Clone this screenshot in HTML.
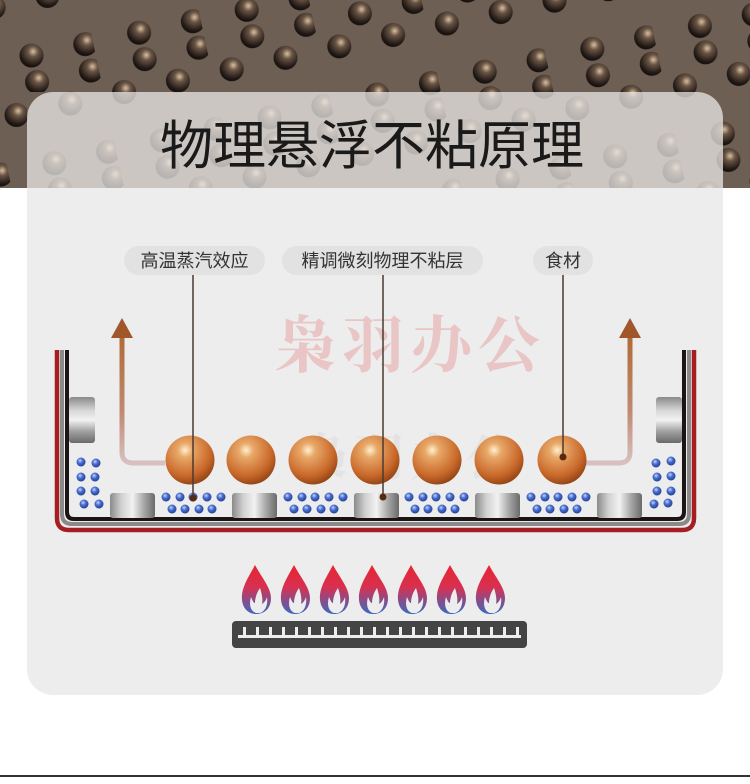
<!DOCTYPE html>
<html><head><meta charset="utf-8"><style>
html,body{margin:0;padding:0;}
body{width:750px;height:779px;overflow:hidden;background:#fff;font-family:"Liberation Sans","Noto Sans CJK SC",sans-serif;}
</style></head><body>
<svg width="750" height="779" viewBox="0 0 750 779" xmlns="http://www.w3.org/2000/svg">
<defs>
<radialGradient id="db" cx="0.6" cy="0.35" r="0.7"><stop offset="0" stop-color="#d8c0a0"/><stop offset="0.3" stop-color="#6a5545"/><stop offset="0.8" stop-color="#201815"/><stop offset="1" stop-color="#100c0a"/></radialGradient>
<radialGradient id="cb" cx="0.4" cy="0.3" r="0.75"><stop offset="0" stop-color="#fff0d0"/><stop offset="0.2" stop-color="#e8a868"/><stop offset="0.7" stop-color="#c8682a"/><stop offset="1" stop-color="#8a3e12"/></radialGradient>
<radialGradient id="bb" cx="0.4" cy="0.35" r="0.7"><stop offset="0" stop-color="#c8d8ff"/><stop offset="0.4" stop-color="#4a70d0"/><stop offset="1" stop-color="#1e3a90"/></radialGradient>
<linearGradient id="cyl" x1="0" x2="1"><stop offset="0" stop-color="#8a8a8a"/><stop offset="0.25" stop-color="#d0d0d0"/><stop offset="0.5" stop-color="#f2f2f2"/><stop offset="0.75" stop-color="#a8a8a8"/><stop offset="1" stop-color="#6a6a6a"/></linearGradient>
<linearGradient id="cylv" x1="0" y1="0" x2="0" y2="1"><stop offset="0" stop-color="#8a8a8a"/><stop offset="0.3" stop-color="#d8d8d8"/><stop offset="0.5" stop-color="#f2f2f2"/><stop offset="0.75" stop-color="#a0a0a0"/><stop offset="1" stop-color="#6a6a6a"/></linearGradient>
<linearGradient id="arr" x1="0" y1="0" x2="0" y2="1"><stop offset="0" stop-color="#b06a35"/><stop offset="0.6" stop-color="#c08a70"/><stop offset="1" stop-color="#d8c0c0"/></linearGradient>
<linearGradient id="fl" x1="0" y1="0" x2="0" y2="1"><stop offset="0" stop-color="#e82530"/><stop offset="0.45" stop-color="#d83050"/><stop offset="1" stop-color="#3a6ac0"/></linearGradient>
<pattern id="pd" x="0" y="0" width="110" height="110" patternUnits="userSpaceOnUse">
<circle cx="20" cy="40" r="12" fill="url(#db)"/><circle cx="75" cy="40" r="12" fill="url(#db)"/>
<circle cx="47" cy="12" r="12" fill="url(#db)"/><circle cx="102" cy="12" r="12" fill="url(#db)"/>
<circle cx="47" cy="95" r="12" fill="url(#db)"/><circle cx="102" cy="95" r="12" fill="url(#db)"/>
</pattern>
<clipPath id="top"><rect x="0" y="0" width="750" height="188"/></clipPath>
<clipPath id="tc"><rect x="27" y="92" width="696" height="96"/></clipPath>
</defs>
<g clip-path="url(#top)">
<rect x="0" y="0" width="750" height="188" fill="#6d5f54"/>
<rect x="-100" y="-100" width="950" height="400" fill="url(#pd)" transform="rotate(-12 375 94)"/>
</g>
<rect x="27" y="92" width="696" height="603" rx="26" fill="#ededed"/>
<g clip-path="url(#tc)"><rect x="0" y="0" width="750" height="188" fill="#6d5f54"/><rect x="-100" y="-100" width="950" height="400" fill="url(#pd)" transform="rotate(-12 375 94)"/><rect x="27" y="92" width="696" height="96" fill="#e8e6e4" opacity="0.76"/></g>
<path d="M27 118 A26 26 0 0 1 53 92 L27 92 Z" fill="#6d5f54"/>
<path d="M723 118 A26 26 0 0 0 697 92 L723 92 Z" fill="#6d5f54"/>
<text x="372" y="164" text-anchor="middle" font-size="53" font-family="Liberation Sans,Noto Sans CJK SC,sans-serif" fill="#1a1a1a">物理悬浮不粘原理</text>
<line x1="0" y1="776" x2="750" y2="776" stroke="#333" stroke-width="2"/>
<text x="410" y="367" text-anchor="middle" font-size="62" font-family="Noto Serif CJK SC,serif" font-weight="bold" fill="#e8b8b8" opacity="0.75" letter-spacing="6">枭羽办公</text>
<text x="410" y="475" text-anchor="middle" font-size="50" font-family="Noto Serif CJK SC,serif" font-weight="bold" fill="#ddd" opacity="0.6" letter-spacing="6">枭羽办公</text>
<g font-size="18" fill="#333" font-family="Liberation Sans,Noto Sans CJK SC,sans-serif">
<rect x="124" y="246" width="141" height="29" rx="14.5" fill="#e2e2e2"/><text x="194.5" y="267" text-anchor="middle">高温蒸汽效应</text>
<rect x="282" y="246" width="201" height="29" rx="14.5" fill="#e2e2e2"/><text x="382.5" y="267" text-anchor="middle">精调微刻物理不粘层</text>
<rect x="533" y="246" width="60" height="29" rx="14.5" fill="#e2e2e2"/><text x="563" y="267" text-anchor="middle">食材</text>
</g>
<path d="M165 463 H133 Q122 463 122 452 V336" fill="none" stroke="url(#arr)" stroke-width="5"/>
<polygon points="122,318 111,338 133,338" fill="#a0582a"/>
<path d="M585 463 H619 Q630 463 630 452 V336" fill="none" stroke="url(#arr)" stroke-width="5"/>
<polygon points="630,318 619,338 641,338" fill="#a0582a"/>
<path d="M57 350 V518 Q57 530 69 530 H682 Q694 530 694 518 V350" fill="none" stroke="#a51e22" stroke-width="4.5"/>
<path d="M62 350 V514 Q62 524 72 524 H679 Q689 524 689 514 V350" fill="none" stroke="#8a8a8a" stroke-width="4"/>
<path d="M67 350 V512 Q67 519 74 519 H677 Q684 519 684 512 V350" fill="none" stroke="#1a1414" stroke-width="4"/>
<rect x="69" y="397" width="26" height="46" rx="3" fill="url(#cylv)"/>
<rect x="656" y="397" width="26" height="46" rx="3" fill="url(#cylv)"/>
<g fill="url(#cyl)">
<rect x="110" y="493" width="45" height="25" rx="3"/><rect x="232" y="493" width="45" height="25" rx="3"/><rect x="354" y="493" width="45" height="25" rx="3"/><rect x="475" y="493" width="45" height="25" rx="3"/><rect x="597" y="493" width="45" height="25" rx="3"/>
</g>
<g fill="url(#bb)">
<circle cx="81" cy="462" r="4.5"/><circle cx="96" cy="463" r="4.5"/><circle cx="81" cy="477" r="4.5"/><circle cx="95" cy="477" r="4.5"/><circle cx="81" cy="491" r="4.5"/><circle cx="95" cy="491" r="4.5"/><circle cx="84" cy="504" r="4.5"/><circle cx="99" cy="504" r="4.5"/>
<circle cx="656" cy="463" r="4.5"/><circle cx="671" cy="461" r="4.5"/><circle cx="657" cy="477" r="4.5"/><circle cx="671" cy="476" r="4.5"/><circle cx="657" cy="491" r="4.5"/><circle cx="671" cy="491" r="4.5"/><circle cx="654" cy="504" r="4.5"/><circle cx="668" cy="503" r="4.5"/>
</g>
<g fill="url(#bb)" id="bg">
<circle cx="166" cy="497" r="4.5"/><circle cx="180" cy="497" r="4.5"/><circle cx="193" cy="497" r="4.5"/><circle cx="207" cy="497" r="4.5"/><circle cx="221" cy="497" r="4.5"/>
<circle cx="172" cy="509" r="4.5"/><circle cx="185" cy="509" r="4.5"/><circle cx="199" cy="509" r="4.5"/><circle cx="212" cy="509" r="4.5"/>
</g>
<use href="#bg" x="122"/><use href="#bg" x="243"/><use href="#bg" x="365"/>
<g fill="url(#cb)">
<circle cx="190" cy="460" r="24.5"/><circle cx="251" cy="460" r="24.5"/><circle cx="313" cy="460" r="24.5"/><circle cx="375" cy="460" r="24.5"/><circle cx="437" cy="460" r="24.5"/><circle cx="499" cy="460" r="24.5"/><circle cx="562" cy="460" r="24.5"/>
</g>
<g stroke="#4a3a32" stroke-width="1.5"><line x1="193" y1="275" x2="193" y2="497"/><line x1="383" y1="275" x2="383" y2="496"/><line x1="563" y1="275" x2="563" y2="457"/></g>
<g fill="#5a2a10"><circle cx="193" cy="498" r="3.5"/><circle cx="383" cy="497" r="3.5"/><circle cx="563" cy="457" r="3.5"/></g>
<g id="fm">
<path d="M255 565 C248 578 241 588 242 600 C243 610 250 614 256 614 C264 614 271 609 271 598 C271 588 262 578 255 565 Z" fill="url(#fl)"/>
<path d="M256 613 C250 611 249 604 251 597 C253 602 254 603 255 603 C255 598 257 592 260 588 C262 594 263 600 262 604 C265 602 266 600 267 597 C268 604 266 611 260 613 Z" fill="#ededed"/>
</g>
<use href="#fm" x="39"/><use href="#fm" x="78"/><use href="#fm" x="117"/><use href="#fm" x="156"/><use href="#fm" x="195"/><use href="#fm" x="234"/>
<rect x="232" y="621" width="295" height="27" rx="4" fill="#444"/>
<rect x="238" y="635" width="283" height="3" fill="#ededed"/>
<g fill="#ededed">
<rect x="243" y="627" width="3" height="10"/><rect x="256" y="627" width="3" height="10"/><rect x="269" y="627" width="3" height="10"/><rect x="282" y="627" width="3" height="10"/><rect x="295" y="627" width="3" height="10"/><rect x="308" y="627" width="3" height="10"/><rect x="321" y="627" width="3" height="10"/><rect x="334" y="627" width="3" height="10"/><rect x="347" y="627" width="3" height="10"/><rect x="360" y="627" width="3" height="10"/><rect x="373" y="627" width="3" height="10"/><rect x="386" y="627" width="3" height="10"/><rect x="399" y="627" width="3" height="10"/><rect x="412" y="627" width="3" height="10"/><rect x="425" y="627" width="3" height="10"/><rect x="438" y="627" width="3" height="10"/><rect x="451" y="627" width="3" height="10"/><rect x="464" y="627" width="3" height="10"/><rect x="477" y="627" width="3" height="10"/><rect x="490" y="627" width="3" height="10"/><rect x="503" y="627" width="3" height="10"/><rect x="516" y="627" width="3" height="10"/>
</g>
</svg>
</body></html>
